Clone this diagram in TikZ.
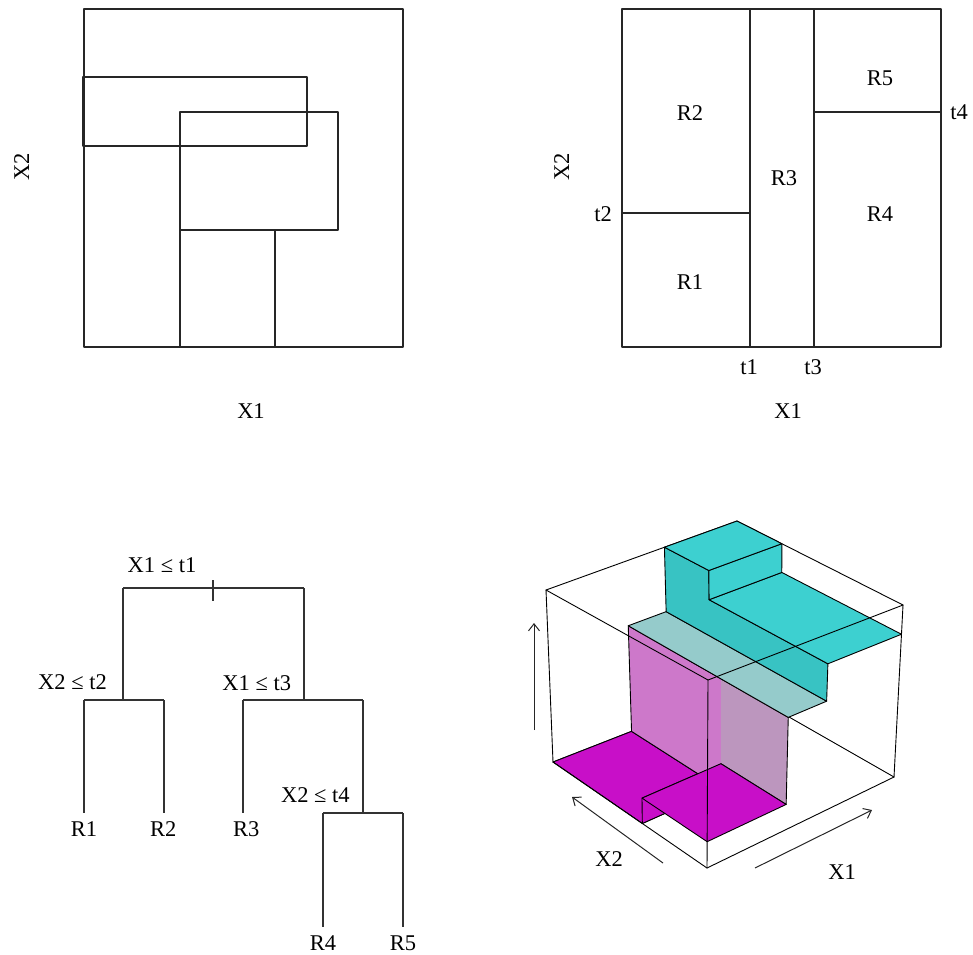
\documentclass[tikz,border=0pt]{standalone}
\usepackage{fontspec}
\setmainfont{Liberation Serif}
\usetikzlibrary{arrows.meta}
\definecolor{cyanT}{RGB}{61,208,208}
\definecolor{cyanW}{RGB}{56,195,195}
\definecolor{tealL}{RGB}{149,203,203}
\definecolor{pinkA}{RGB}{205,120,202}
\definecolor{pinkB}{RGB}{188,150,190}
\definecolor{magF}{RGB}{200,15,200}
% trilinear map of the 3-D box (a along X1, b along X2, z up) to picture points
\newcommand\tdpt[4]{%
  \pgfmathsetmacro\tdA{#2}%
  \pgfmathsetmacro\tdB{#3}%
  \pgfmathsetmacro\tdZ{#4}%
  \pgfmathsetmacro\tdX{(1-\tdZ)*((1-\tdA)*(1-\tdB)*707+\tdA*(1-\tdB)*894+(1-\tdA)*\tdB*553+\tdA*\tdB*740)+\tdZ*((1-\tdA)*(1-\tdB)*708+\tdA*(1-\tdB)*903+(1-\tdA)*\tdB*546+\tdA*\tdB*737)}%
  \pgfmathsetmacro\tdY{(1-\tdZ)*((1-\tdA)*(1-\tdB)*868+\tdA*(1-\tdB)*777+(1-\tdA)*\tdB*762+\tdA*\tdB*689)+\tdZ*((1-\tdA)*(1-\tdB)*680+\tdA*(1-\tdB)*605+(1-\tdA)*\tdB*590+\tdA*\tdB*521)}%
  \coordinate (#1) at (\tdX,\tdY);}
\def\sTa{0.42}
\def\sTb{0.42}
\def\sTc{0.62}
\def\sTd{0.73}
\def\sZa{0.14}
\def\sZc{0.62}
\def\sZd{0.83}
\begin{document}
\begin{tikzpicture}[x=1pt,y=-1pt,
  lbl/.style={font=\fontsize{22.5}{27}\selectfont, inner sep=0pt, anchor=base},
  panel/.style={line width=1.2pt, draw=black!85, line join=round},
  tree/.style={line width=1.2pt, draw=black!80},
  facet/.style={draw=black, line width=0.9pt, line join=round},
  boxedge/.style={draw=black, line width=0.9pt, line cap=round},
  axarrow/.style={draw=black!85, line width=1pt, -{Straight Barb[length=7pt,width=11pt]}}]
\useasboundingbox (0,0) rectangle (973,954);

% ---------------- top-left panel ----------------
\draw[panel] (84,9) rectangle (403,347);
\draw[panel] (83,77) rectangle (307,146);
\draw[panel] (180,112) rectangle (338,230);
\draw[panel] (180,230) rectangle (275,347);
\draw[panel] (84,146) -- (180,146) -- (180,347);
\node[lbl] (tlx1) at (251,418) {X1};
\node[lbl, rotate=90] (tlx2) at (29,167) {X2};

% ---------------- top-right panel ----------------
\coordinate (trA) at (622,9);
\coordinate (trB) at (941,347);
\draw[panel] (trA) rectangle (trB);
\coordinate (t1top) at (750,9);  \coordinate (t1bot) at (750,347);
\coordinate (t3top) at (814,9);  \coordinate (t3bot) at (814,347);
\coordinate (t2l) at (622,213);  \coordinate (t2r) at (750,213);
\coordinate (t4l) at (814,112);  \coordinate (t4r) at (941,112);
\draw[panel] (t1top) -- (t1bot);
\draw[panel] (t3top) -- (t3bot);
\draw[panel] (t2l) -- (t2r);
\draw[panel] (t4l) -- (t4r);
\node[lbl] (rR2) at (690,120.5) {R2};
\node[lbl] (rR1) at (690,289) {R1};
\node[lbl] (rR3) at (784,185) {R3};
\node[lbl] (rR4) at (880,221.5) {R4};
\node[lbl] (rR5) at (880,85) {R5};
\node[lbl] (lt1) at (749,374) {t1};
\node[lbl] (lt3) at (813,374) {t3};
\node[lbl] (lt2) at (603,221.5) {t2};
\node[lbl] (lt4) at (959,119) {t4};
\node[lbl] (trx1) at (788,418) {X1};
\node[lbl, rotate=90] (trx2) at (569,167) {X2};

% ---------------- tree ----------------
\coordinate (n0L) at (123,588);
\coordinate (n0R) at (304,588);
\coordinate (tkA) at (213,580);
\coordinate (tkB) at (213,601);
\coordinate (n1) at (123,700);
\coordinate (n1L) at (84,700);
\coordinate (n1R) at (164,700);
\coordinate (n2) at (304,700);
\coordinate (n2L) at (243,700);
\coordinate (n2R) at (363,700);
\coordinate (n3) at (363,813);
\coordinate (n3L) at (323,813);
\coordinate (n3R) at (403,813);
\coordinate (lf1) at (84,813);
\coordinate (lf2) at (164,813);
\coordinate (lf3) at (243,813);
\coordinate (lf4) at (323,927);
\coordinate (lf5) at (403,927);
\draw[tree] (n0L) -- (n0R);
\draw[tree] (tkA) -- (tkB);
\draw[tree] (n0L) -- (n1);
\draw[tree] (n0R) -- (n2);
\draw[tree] (n1L) -- (n1R);
\draw[tree] (n2L) -- (n2R);
\draw[tree] (n1L) -- (lf1);
\draw[tree] (n1R) -- (lf2);
\draw[tree] (n2L) -- (lf3);
\draw[tree] (n2R) -- (n3);
\draw[tree] (n3L) -- (n3R);
\draw[tree] (n3L) -- (lf4);
\draw[tree] (n3R) -- (lf5);
\node[lbl] (s1) at (162,572) {X1 ≤ t1};
\node[lbl] (s2) at (72.5,689) {X2 ≤ t2};
\node[lbl] (s3) at (256.7,690.5) {X1 ≤ t3};
\node[lbl] (s4) at (315.3,802.5) {X2 ≤ t4};
\node[lbl] (kR1) at (84,836.5) {R1};
\node[lbl] (kR2) at (163.3,836.5) {R2};
\node[lbl] (kR3) at (246.3,836.5) {R3};
\node[lbl] (kR4) at (323,950) {R4};
\node[lbl] (kR5) at (403,950) {R5};

% ---------------- 3-D perspective panel ----------------
\tdpt{BF}{0}{0}{0}
\tdpt{BR}{1}{0}{0}
\tdpt{BL}{0}{1}{0}
\tdpt{BB}{1}{1}{0}
\tdpt{TF}{0}{0}{1}
\tdpt{TR}{1}{0}{1}
\tdpt{TL}{0}{1}{1}
\tdpt{TB}{1}{1}{1}
% floor R2 and step
\tdpt{f1}{0}{\sTb}{0}
\tdpt{f2}{\sTa}{1}{0}
\tdpt{f3}{\sTa}{\sTb}{0}
% slab R1
\tdpt{s1}{0}{0}{\sZa}
\tdpt{s2}{0}{\sTb}{\sZa}
\tdpt{s3}{\sTa}{\sTb}{\sZa}
\tdpt{s4}{\sTa}{0}{\sZa}
% strip R3
\tdpt{p1}{\sTa}{1}{\sZc}
\tdpt{p3}{\sTa}{\sTb}{\sZc}
\tdpt{p4}{\sTa}{0}{\sZc}
\tdpt{q1}{\sTc}{1}{\sZc}
\tdpt{q4}{\sTc}{0}{\sZc}
% R4, R5
\tdpt{u1}{\sTc}{1}{1}
\tdpt{u2}{\sTc}{\sTd}{1}
\tdpt{u3}{\sTc}{\sTd}{\sZd}
\tdpt{u4}{\sTc}{0}{\sZd}
\tdpt{v2}{1}{\sTd}{1}
\tdpt{v3}{1}{\sTd}{\sZd}
\tdpt{v4}{1}{0}{\sZd}

% back edges of the box
\draw[boxedge] (BB) -- (BL);
\draw[boxedge] (BB) -- (BR);
\draw[boxedge] (BB) -- (TB);
\draw[boxedge] (TL) -- (TB) -- (TR);
\draw[boxedge] (BL) -- (TL);
\draw[boxedge] (BR) -- (TR);

% surface, back to front
\filldraw[facet, fill=magF] (f1) -- (BL) -- (f2) -- (f3) -- cycle;
\filldraw[facet, fill=magF] (f1) -- (f3) -- (s3) -- (s2) -- cycle;
\fill[pinkA] (f2) -- (f3) -- (p3) -- (p1) -- cycle;
\fill[pinkB] (s3) -- (s4) -- (p4) -- (p3) -- cycle;
\draw[facet] (f2) -- (p1) -- (p4) -- (s4) -- (s3) -- (f3) -- cycle;
\filldraw[facet, fill=magF] (s1) -- (s2) -- (s3) -- (s4) -- cycle;
\filldraw[facet, fill=tealL] (p1) -- (q1) -- (q4) -- (p4) -- cycle;
\filldraw[facet, fill=cyanW] (q1) -- (u1) -- (u2) -- (u3) -- (u4) -- (q4) -- cycle;
\filldraw[facet, fill=cyanT] (u4) -- (u3) -- (v3) -- (v4) -- cycle;
\filldraw[facet, fill=cyanT] (u3) -- (u2) -- (v2) -- (v3) -- cycle;
\filldraw[facet, fill=cyanT] (u1) -- (u2) -- (v2) -- (TB) -- cycle;

% front edges of the box
\draw[boxedge] (BL) -- (BF) -- (BR);
\draw[boxedge] (BF) -- (TF);
\draw[boxedge] (TL) -- (TF) -- (TR);

% axis arrows and labels
\coordinate (zA) at (534,730);
\coordinate (zB) at (534,623);
\coordinate (xtA) at (663,863);
\coordinate (xtB) at (572,797);
\coordinate (xoA) at (755,868);
\coordinate (xoB) at (872,810);
\draw[axarrow] (zA) -- (zB);
\draw[axarrow] (xtA) -- (xtB);
\draw[axarrow] (xoA) -- (xoB);
\node[lbl] (dx2) at (609,866.5) {X2};
\node[lbl] (dx1) at (842,879) {X1};
\end{tikzpicture}
\end{document}
